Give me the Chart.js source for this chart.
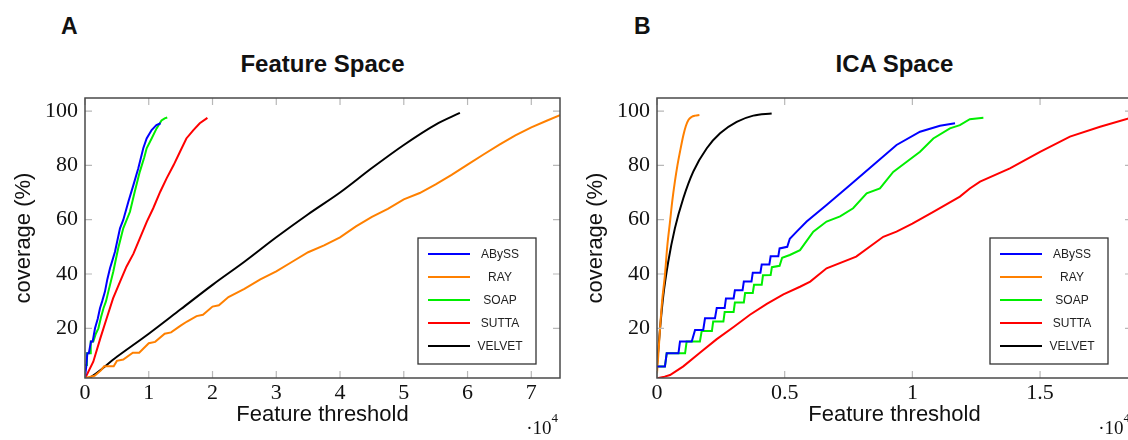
<!DOCTYPE html>
<html>
<head>
<meta charset="utf-8">
<script src="https://cdn.jsdelivr.net/npm/chart.js@4.4.1/dist/chart.umd.min.js"></script>
<style>
  body { margin: 0; width: 1128px; height: 440px; overflow: hidden; position: relative; background: #fff;
         font-family: "Liberation Sans", Arial, sans-serif; color: #111; }
  .panel { position: absolute; top: 0; width: 572px; height: 440px; }
  .letter { position: absolute; top: 15px; font-weight: bold; font-size: 23px; line-height: 23px; }
  .title { position: absolute; top: 52px; width: 475px; text-align: center; font-weight: bold; font-size: 24px; line-height: 24px; }
</style>
</head>
<body>
<div class="letter" style="left:61px">A</div>
<div class="title" style="left:85px">Feature Space</div>
<div class="letter" style="left:634px">B</div>
<div class="title" style="left:657px">ICA Space</div>
<div class="panel" style="left:0"><canvas id="chartA"></canvas></div>
<div class="panel" style="left:572px"><canvas id="chartB"></canvas></div>

<script>
// x values are in units of 10^4 (axis shows the multiplier)
const seriesNames = ["ABySS", "RAY", "SOAP", "SUTTA", "VELVET"];
const seriesColors = ["#0000ff", "#ff8000", "#00ee00", "#ff0000", "#000000"];
const yTicks = [20, 40, 60, 80, 100];

// --- A: Feature Space ---
const fsTicks = [0, 1, 2, 3, 4, 5, 6, 7];
const fsTickLabels = ["0", "1", "2", "3", "4", "5", "6", "7"];

const fsAbyssX = [0, 0.02, 0.037, 0.06, 0.094, 0.12, 0.157, 0.2, 0.235, 0.27, 0.313, 0.35, 0.392, 0.43, 0.47, 0.549, 0.6, 0.68, 0.76, 0.836, 0.914, 0.967, 1.045, 1.12, 1.186];
const fsAbyssY = [2, 6, 10.8, 10.8, 15.1, 15.1, 20, 23.5, 27.4, 30, 33.5, 38, 42.1, 45, 48.2, 56.8, 59.9, 66.6, 72.8, 78.9, 86.3, 89.9, 93, 94.8, 95.5];

const fsRayX = [0, 0.15, 0.25, 0.3, 0.45, 0.5, 0.6, 0.75, 0.85, 1.0, 1.1, 1.25, 1.35, 1.5, 1.6, 1.75, 1.85, 2.0, 2.1, 2.25, 2.5, 2.75, 3.0, 3.25, 3.5, 3.75, 4.0, 4.25, 4.5, 4.75, 5.0, 5.25, 5.5, 5.75, 6.0, 6.25, 6.5, 6.75, 7.0, 7.25, 7.45];
const fsRayY = [1.7, 2.5, 4.5, 6, 6, 8, 8.5, 11, 11, 14.5, 15, 18, 18.5, 21, 22.5, 24.5, 25, 28, 28.5, 31.5, 34.5, 38, 41, 44.5, 48, 50.5, 53.5, 57.5, 61, 64, 67.5, 69.8, 73, 76.5, 80.3, 84, 87.6, 91, 94, 96.5, 98.5];

const fsSoapX = [0, 0.02, 0.03, 0.08, 0.09, 0.13, 0.17, 0.21, 0.25, 0.29, 0.33, 0.366, 0.444, 0.52, 0.6, 0.705, 0.78, 0.86, 0.93, 0.967, 1.045, 1.123, 1.2, 1.25, 1.29];
const fsSoapY = [6.5, 6.5, 10.8, 10.8, 15.1, 15.1, 18, 20, 24, 27.4, 30, 33.5, 40.9, 49.4, 56.8, 62.9, 70.3, 77.7, 83, 86.3, 89.9, 93.6, 96.5, 97.3, 97.6];

const fsSuttaX = [0, 0.13, 0.24, 0.34, 0.44, 0.55, 0.65, 0.76, 0.86, 0.97, 1.07, 1.18, 1.28, 1.39, 1.49, 1.59, 1.7, 1.8, 1.92];
const fsSuttaY = [1.5, 7.7, 16.3, 23.7, 31, 37.2, 42.7, 47.5, 53.1, 59.3, 64.2, 70.3, 75.2, 80.1, 85, 89.9, 93, 95.5, 97.5];

const fsVelvetX = [0, 0.05, 0.5, 1, 1.5, 2, 2.5, 3, 3.5, 4, 4.5, 5, 5.5, 5.88];
const fsVelvetY = [1.2, 1.5, 9.5, 18, 27, 36, 44.5, 53.5, 62, 70, 79, 87.5, 95, 99.3];

// --- B: ICA Space ---
const icaTicks = [0, 0.5, 1, 1.5];
const icaTickLabels = ["0", "0.5", "1", "1.5"];

const icaAbyssX = [0, 0.031, 0.038, 0.084, 0.09, 0.136, 0.149, 0.181, 0.188, 0.227, 0.234, 0.265, 0.27, 0.3, 0.305, 0.335, 0.34, 0.37, 0.375, 0.405, 0.41, 0.44, 0.445, 0.475, 0.48, 0.51, 0.52, 0.547, 0.586, 0.664, 0.756, 0.847, 0.938, 1.03, 1.108, 1.167];
const icaAbyssY = [5.9, 5.9, 10.8, 10.8, 15.1, 15.1, 19.4, 19.4, 23.7, 23.7, 27.5, 27.5, 31, 31, 34, 34, 37.2, 37.2, 40.5, 40.5, 43.5, 43.5, 46.5, 46.5, 49.4, 50, 53, 55.6, 59.3, 65.4, 72.8, 80.1, 87.5, 92.4, 94.6, 95.5];

const icaRayX = [0, 0.005, 0.012, 0.02, 0.031, 0.04, 0.051, 0.06, 0.07, 0.08, 0.09, 0.103, 0.113, 0.123, 0.135, 0.15, 0.166];
const icaRayY = [3.4, 10, 20, 30, 39.6, 50, 59.3, 67, 74, 80, 85, 91, 94.5, 96.7, 97.8, 98.3, 98.5];

const icaSoapX = [0, 0.031, 0.038, 0.11, 0.116, 0.168, 0.175, 0.215, 0.22, 0.26, 0.265, 0.3, 0.305, 0.34, 0.345, 0.375, 0.38, 0.41, 0.415, 0.445, 0.45, 0.48, 0.49, 0.52, 0.56, 0.612, 0.664, 0.717, 0.768, 0.821, 0.873, 0.925, 0.978, 1.03, 1.082, 1.147, 1.186, 1.225, 1.278];
const icaSoapY = [5.9, 5.9, 10.8, 10.8, 15.1, 15.1, 19, 19, 22.5, 22.5, 26, 26, 29.5, 29.5, 33, 33, 36, 36, 39.5, 39.6, 42.5, 43, 46, 47, 48.8, 55.6, 59.3, 61.2, 64.2, 69.7, 71.5, 77.6, 81.3, 85, 89.9, 93.6, 94.8, 97, 97.5];

const icaSuttaX = [0, 0.03, 0.051, 0.103, 0.168, 0.234, 0.3, 0.364, 0.43, 0.495, 0.56, 0.6, 0.664, 0.78, 0.886, 0.938, 1.0, 1.082, 1.186, 1.225, 1.265, 1.382, 1.5, 1.617, 1.735, 1.86];
const icaSuttaY = [1.6, 2.2, 2.8, 6, 11, 16, 20.5, 25, 29, 32.5, 35.3, 37.2, 42.1, 46.4, 53.7, 55.6, 58.5, 62.9, 68.5, 71.5, 74, 78.9, 85, 90.6, 94.2, 97.6];

const icaVelvetX = [0, 0.005, 0.012, 0.025, 0.044, 0.07, 0.103, 0.142, 0.195, 0.247, 0.312, 0.377, 0.449];
const icaVelvetY = [6.5, 12, 20, 32.3, 44.5, 56.8, 67.9, 77.7, 86.3, 91.8, 96, 98.3, 99.1];

const sansFont = "'Liberation Sans', Arial, sans-serif";
const serifFont = "'Liberation Serif', 'Times New Roman', serif";

// frame, inner tick marks, legend box and the 10^4 multiplier
const axisDecor = {
  id: "axisDecor",
  afterDatasetsDraw(chart) {
    const { ctx, chartArea: a, scales } = chart;
    ctx.save();
    ctx.strokeStyle = "#b8b8b8";
    ctx.lineWidth = 1.2;
    ctx.beginPath();
    scales.x.ticks.forEach((t) => {
      const px = scales.x.getPixelForValue(t.value);
      ctx.moveTo(px, a.bottom); ctx.lineTo(px, a.bottom - 7);
      ctx.moveTo(px, a.top); ctx.lineTo(px, a.top + 7);
    });
    scales.y.ticks.forEach((t) => {
      const py = scales.y.getPixelForValue(t.value);
      ctx.moveTo(a.left, py); ctx.lineTo(a.left + 7, py);
      ctx.moveTo(a.right, py); ctx.lineTo(a.right - 7, py);
    });
    ctx.stroke();

    ctx.strokeStyle = "#4a4a4a";
    ctx.lineWidth = 1.5;
    ctx.strokeRect(a.left, a.top, a.right - a.left, a.bottom - a.top);

    // legend
    const bx = a.right - 142, by = a.bottom - 140;
    ctx.fillStyle = "#fff";
    ctx.fillRect(bx, by, 118, 126);
    ctx.strokeStyle = "#333";
    ctx.lineWidth = 1.3;
    ctx.strokeRect(bx, by, 118, 126);
    ctx.font = "12px " + sansFont;
    ctx.textAlign = "center";
    ctx.textBaseline = "middle";
    chart.data.datasets.forEach((ds, i) => {
      const ly = by + 16 + i * 23;
      ctx.strokeStyle = ds.borderColor;
      ctx.lineWidth = 2;
      ctx.beginPath();
      ctx.moveTo(bx + 10, ly); ctx.lineTo(bx + 52, ly);
      ctx.stroke();
      ctx.fillStyle = "#222";
      ctx.fillText(ds.label, bx + 82, ly + 1);
    });

    // multiplier
    ctx.fillStyle = "#111";
    ctx.textAlign = "right";
    ctx.textBaseline = "alphabetic";
    ctx.font = "13px " + serifFont;
    ctx.fillText("4", a.right - 2, 422);
    ctx.font = "19px " + serifFont;
    ctx.fillText("\u00b710", a.right - 8.5, 434);
    ctx.restore();
  }
};

function zipPoints(xs, ys) {
  return xs.map((x, i) => ({ x: x, y: ys[i] }));
}

function buildChart(id, xsList, ysList, xMax, xTicks, xLabels, smoothNames) {
  const datasets = seriesNames.map((name, i) => ({
    label: name,
    data: zipPoints(xsList[i], ysList[i]),
    showLine: true,
    borderColor: seriesColors[i],
    borderWidth: 2,
    pointRadius: 0,
    cubicInterpolationMode: smoothNames.includes(name) ? "monotone" : "default",
    tension: 0,
    fill: false
  }));
  return new Chart(document.getElementById(id), {
    type: "scatter",
    data: { datasets: datasets },
    options: {
      responsive: true,
      maintainAspectRatio: false,
      animation: false,
      layout: { padding: { top: 98, right: 12, bottom: 0, left: 0 } },
      plugins: { legend: { display: false }, tooltip: { enabled: false }, title: { display: false } },
      scales: {
        x: {
          type: "linear", min: 0, max: xMax,
          grid: { display: false, drawTicks: false },
          border: { display: false },
          afterBuildTicks: (s) => { s.ticks = xTicks.map((v) => ({ value: v })); },
          afterFit: (s) => { s.height = 62; },
          ticks: {
            autoSkip: false, maxRotation: 0, padding: 2, color: "#111",
            font: { family: serifFont, size: 22 },
            callback: (v) => xLabels[xTicks.indexOf(v)]
          },
          title: {
            display: true, text: "Feature threshold", color: "#111",
            font: { family: sansFont, size: 22 }, padding: { top: 0, bottom: 12 }
          }
        },
        y: {
          type: "linear", min: 1.7, max: 104.8,
          grid: { display: false, drawTicks: false },
          border: { display: false },
          afterBuildTicks: (s) => { s.ticks = yTicks.map((v) => ({ value: v })); },
          afterFit: (s) => { s.width = 85; },
          ticks: {
            autoSkip: false, padding: 7, color: "#111",
            font: { family: serifFont, size: 22 },
            callback: (v) => String(v)
          },
          title: {
            display: true, text: "coverage (%)", color: "#111",
            font: { family: sansFont, size: 22 }, padding: { top: 11, bottom: 0 }
          }
        }
      }
    },
    plugins: [axisDecor]
  });
}

buildChart("chartA",
  [fsAbyssX, fsRayX, fsSoapX, fsSuttaX, fsVelvetX],
  [fsAbyssY, fsRayY, fsSoapY, fsSuttaY, fsVelvetY],
  7.45, fsTicks, fsTickLabels, ["VELVET"]);

buildChart("chartB",
  [icaAbyssX, icaRayX, icaSoapX, icaSuttaX, icaVelvetX],
  [icaAbyssY, icaRayY, icaSoapY, icaSuttaY, icaVelvetY],
  1.86, icaTicks, icaTickLabels, ["VELVET", "RAY"]);
</script>
</body>
</html>
